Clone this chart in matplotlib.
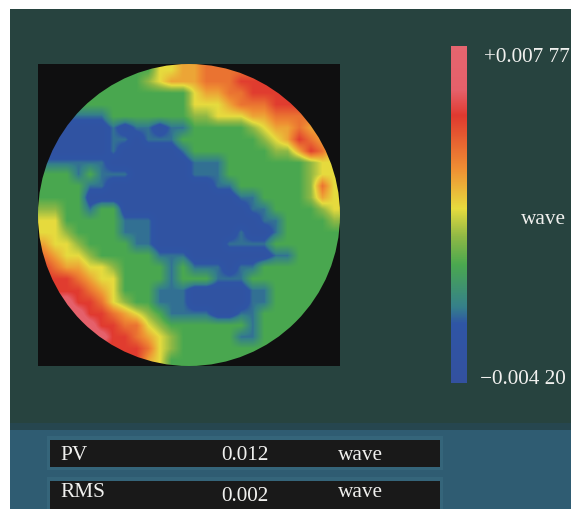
import numpy as np
import matplotlib
matplotlib.use("Agg")
import matplotlib.pyplot as plt
from matplotlib.colors import LinearSegmentedColormap, Normalize
from matplotlib.patches import Circle, Rectangle
from matplotlib.colorbar import ColorbarBase

VMIN, VMAX = -4.20, 7.77  # milliwave
LEVELS = {"B": -3.0, "T": -1.7, "G": 0.0, "L": 1.0, "Y": 2.0,
          "A": 3.0, "O": 4.0, "R": 5.2, "P": 7.0}
MAP_ROWS = [
    "GGGGGGGGGGYYAAOOOOOOOOOOOO",
    "GGGGGGGGGLYAAAOOORRRRRRRRR",
    "GGGGGGGGGGGGGYAAOORRRRRRRR",
    "GGGGGGGGGGGGGYYYAOOORRRRRR",
    "TTTTTTGGGGGGGLLYYYAAOOOOOO",
    "BBBBBBTBTTBTTGGGGGLYAAOAAA",
    "BBBBBBTTBTTTGGGGGGGLYAROAA",
    "BBBBBBTBBBBBTGGGGGGGLLAROY",
    "TTTTTTBBBBBBBTTTGGGGGGGLYY",
    "GGGTGTTTBBBBBTTTGGGGGGGLYY",
    "GGGGTTBBBBBBBBBTTGGGGGGLOY",
    "GGGGBBBBBBBBBBBBBTTGGGGLAY",
    "LLGGTGGBBBBBBBBBBBTTGGGGLY",
    "YYGGGGGTTTBBBBBBBBBTTGGGGL",
    "YYLGGGGTTTBBBBBBBTBBTGGGGG",
    "AYYLGGGGTTBBBBBBTTTTGGGGGG",
    "OAYYLGGGGGTTTBBBBBBBTTGGGG",
    "ROAAYYLGGGGTGTTTBTTGGGGGGG",
    "RRROAYYGGGGTGGGTTTGGGGGGGG",
    "RRRROAYGGGTTTBBBBBTTGGGGGG",
    "PPPRROYLGGTTTBBBBBTTGGGGGG",
    "PPPPRROAYLGTTTTBBTTGGGGGGG",
    "PPPPPRROOYLGGGGGGGTGGGGGGG",
    "PPPPPPRROAYLGGGGGTTGGGGGGG",
    "RRRRRRRRROYLGGGGGGGGGGGGGG",
    "RRRRRRRRRAYGGGGGGGGGGGGGGG",
]
CMAP_VALUES = [-4.20, -2.1, -1.5, 0.0, 1.0, 2.0, 3.4, 5.3, 6.2, 7.77]
CMAP_COLORS = ["#33519f", "#2f55a5", "#35808a", "#4aa84f", "#8fb845", "#e6db3e",
               "#ef8f33", "#e0392f", "#e5606a", "#e5656f"]
TOP_LABEL, BOTTOM_LABEL, UNIT = "+0.007 77", "\u22120.004 20", "wave"
STATS = [("PV", "0.012", "wave"), ("RMS", "0.002", "wave")]

W, H = 571, 510
plt.rcParams["font.family"] = ["Liberation Serif", "DejaVu Serif"]
fig = plt.figure(figsize=(W / 100, H / 100), dpi=100, facecolor="white")

def px_axes(x0, y0, x1, y1, **kw):
    return fig.add_axes([x0 / W, 1 - y1 / H, (x1 - x0) / W, (y1 - y0) / H], **kw)

def ftext(x, y, s, **kw):
    fig.text(x / W, 1 - y / H, s, color="#f0f0ee", fontsize=15.3, va="center", zorder=5, **kw)

def frect(x0, y0, x1, y1, color):
    fig.add_artist(Rectangle((x0 / W, 1 - y1 / H), (x1 - x0) / W, (y1 - y0) / H,
                             transform=fig.transFigure, facecolor=color,
                             edgecolor="none", zorder=-5))

frect(10, 10, W, 428, "#27433f")
frect(10, 428, W, H, "#2f5c72")
frect(10, 424, W, 431, "#26464f")
frect(47, 437, 443, 471, "#35657a")
frect(47, 478, 443, H, "#35657a")
frect(50, 441, 440, 468, "#191919")
frect(50, 482, 440, H, "#191919")

norm = Normalize(VMIN, VMAX)
nodes = [(norm(v), c) for v, c in zip(CMAP_VALUES, CMAP_COLORS)]
cmap = LinearSegmentedColormap.from_list("wave", nodes, N=512)

data = np.array([[LEVELS[c] for c in row] for row in MAP_ROWS])
ax = px_axes(38, 65, 340, 367, facecolor="#0f0f10")
ax.set_xticks([])
ax.set_yticks([])
for s in ax.spines.values():
    s.set_visible(False)
n = data.shape[0]
im = ax.imshow(data, cmap=cmap, norm=norm, interpolation="bilinear",
               extent=(-0.5, n - 0.5, n - 0.5, -0.5), zorder=2)
c = (n - 1) / 2
clip = Circle((c, c), n / 2, transform=ax.transData)
im.set_clip_path(clip)

cax = px_axes(451, 47, 467, 384)
cb = ColorbarBase(cax, cmap=cmap, norm=norm, orientation="vertical")
cb.outline.set_visible(False)
cb.set_ticks([])

ftext(484, 58, TOP_LABEL, ha="left")
ftext(521, 219, UNIT, ha="left")
ftext(480, 379, BOTTOM_LABEL, ha="left")

ftext(60, 455, STATS[0][0], ha="left")
ftext(221, 455, STATS[0][1], ha="left")
ftext(338, 455, STATS[0][2], ha="left")
ftext(60, 493, STATS[1][0], ha="left")
ftext(221, 497, STATS[1][1], ha="left")
ftext(338, 493, STATS[1][2], ha="left")

fig.savefig("out.png", dpi=100)
